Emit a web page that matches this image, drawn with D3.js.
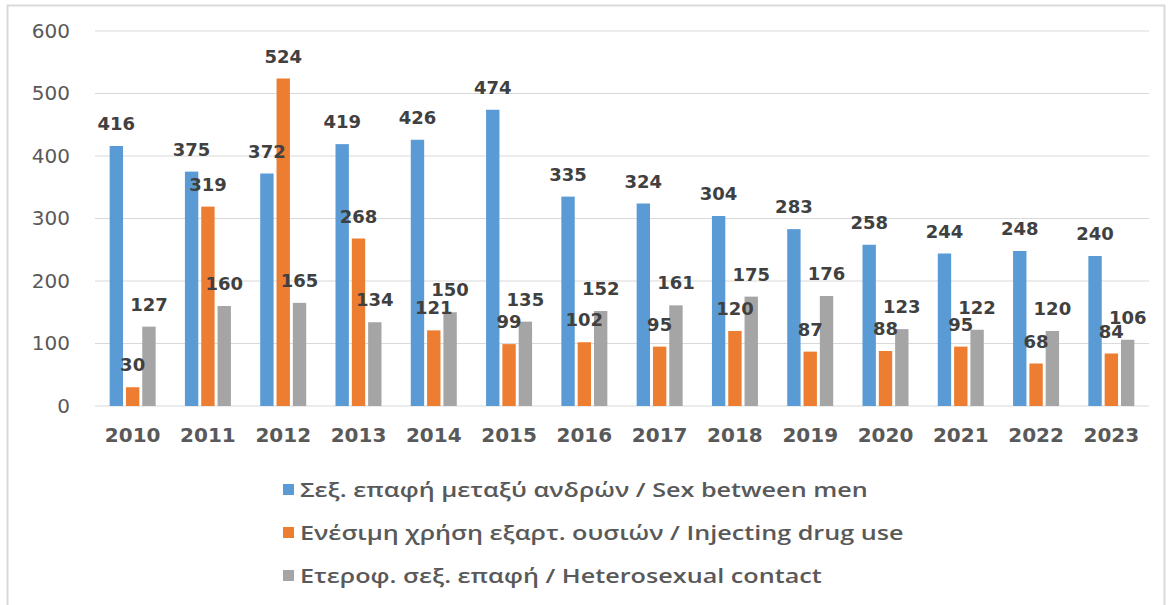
<!DOCTYPE html>
<html>
<head>
<meta charset="utf-8">
<script src="https://cdn.jsdelivr.net/npm/d3@7"></script>
<style>
  body { margin: 0; background: #fff; }
  svg { display: block; }
</style>
</head>
<body>
<svg id="chart" width="1171" height="605"></svg>
<script>
var years = ['2010','2011','2012','2013','2014','2015','2016','2017','2018','2019','2020','2021','2022','2023'];
var sexMen = [416, 375, 372, 419, 426, 474, 335, 324, 304, 283, 258, 244, 248, 240];
var drugUse = [30, 319, 524, 268, 121, 99, 102, 95, 120, 87, 88, 95, 68, 84];
var hetero = [127, 160, 165, 134, 150, 135, 152, 161, 175, 176, 123, 122, 120, 106];
var seriesNames = [
  'Σεξ. επαφή μεταξύ ανδρών / Sex between men',
  'Ενέσιμη χρήση εξαρτ. ουσιών / Injecting drug use',
  'Ετεροφ. σεξ. επαφή / Heterosexual contact'
];
var colors = ['#5b9bd5', '#ed7d31', '#a5a5a5'];
var yTicks = [0, 100, 200, 300, 400, 500, 600];

var series = [sexMen, drugUse, hetero];

var svg = d3.select('#chart');

// outer frame
svg.append('rect')
  .attr('x', 7.5).attr('y', 5.5)
  .attr('width', 1157).attr('height', 610)
  .attr('fill', 'none')
  .attr('stroke', '#d9d9d9')
  .attr('stroke-width', 2);

var plotLeft = 95, plotRight = 1149, plotTop = 31, plotBottom = 406;

var x = d3.scaleBand().domain(years).range([plotLeft, plotRight]);
var sub = d3.scaleBand().domain([0, 1, 2])
  .range([x.bandwidth() / 2 - 23, x.bandwidth() / 2 + 23])
  .paddingInner(0.18);
var y = d3.scaleLinear().domain([0, 600]).range([plotBottom, plotTop]);

// gridlines
svg.append('g')
  .selectAll('line')
  .data(yTicks)
  .enter().append('line')
    .attr('x1', plotLeft).attr('x2', plotRight)
    .attr('y1', function(d){ return y(d); })
    .attr('y2', function(d){ return y(d); })
    .attr('stroke', '#d9d9d9')
    .attr('stroke-width', 1.2);

// y axis labels
var yAxis = d3.axisLeft(y).tickValues(yTicks).tickSize(0).tickPadding(0);
svg.append('g')
  .attr('transform', 'translate(70,0)')
  .call(yAxis)
  .call(function(g){ g.select('.domain').remove(); })
  .selectAll('text')
    .attr('font-family', 'DejaVu Sans, Verdana, sans-serif')
    .attr('font-size', 20)
    .attr('fill', '#595959');

// x axis labels
var xAxis = d3.axisBottom(x).tickSize(0).tickPadding(0);
svg.append('g')
  .attr('transform', 'translate(0,' + (plotBottom + 22) + ')')
  .call(xAxis)
  .call(function(g){ g.select('.domain').remove(); })
  .selectAll('text')
    .attr('font-family', 'DejaVu Sans, Verdana, sans-serif')
    .attr('font-size', 20)
    .attr('font-weight', 'bold')
    .attr('fill', '#595959');

// bars
series.forEach(function(vals, si){
  svg.append('g')
    .selectAll('rect')
    .data(vals)
    .enter().append('rect')
      .attr('x', function(d, i){ return x(years[i]) + sub(si); })
      .attr('y', function(d){ return y(d); })
      .attr('width', sub.bandwidth())
      .attr('height', function(d){ return plotBottom - y(d); })
      .attr('fill', colors[si]);
});

// data labels
series.forEach(function(vals, si){
  svg.append('g')
    .selectAll('text')
    .data(vals)
    .enter().append('text')
      .attr('x', function(d, i){ return x(years[i]) + sub(si) + sub.bandwidth() / 2; })
      .attr('y', function(d){ return y(d) - 16; })
      .attr('text-anchor', 'middle')
      .attr('font-family', 'DejaVu Sans, Verdana, sans-serif')
      .attr('font-size', 18)
      .attr('font-weight', 'bold')
      .attr('fill', '#404040')
      .text(function(d){ return d; });
});

// legend
var legend = svg.append('g')
  .selectAll('g')
  .data(seriesNames)
  .enter().append('g')
    .attr('transform', function(d, i){ return 'translate(283,' + (490 + i * 43) + ')'; });

legend.append('rect')
  .attr('x', 0).attr('y', -6)
  .attr('width', 11).attr('height', 11)
  .attr('fill', function(d, i){ return colors[i]; });

legend.append('text')
  .attr('transform', 'translate(17,0) scale(1.26,1)')
  .attr('dy', '0.35em')
  .attr('font-family', 'Open Sans, sans-serif')
  .attr('font-size', 20)
  .attr('font-weight', 600)
  .attr('fill', '#595959')
  .text(function(d){ return d; });
</script>
</body>
</html>
